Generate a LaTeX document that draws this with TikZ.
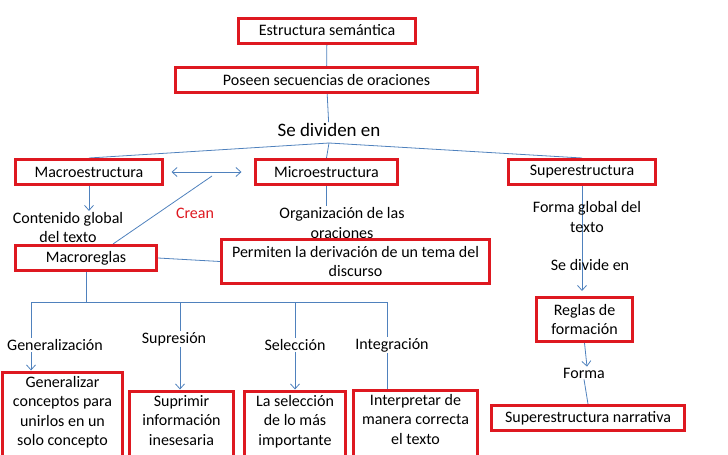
\documentclass[tikz,border=0pt]{standalone}
\usepackage{fontspec}
\setmainfont{Carlito}
\usepackage[dvipsnames]{xcolor}
\usetikzlibrary{positioning,arrows.meta,backgrounds}

\definecolor{boxred}{RGB}{222,24,32}
\definecolor{linkblue}{RGB}{79,129,189}
\tikzset{
  redbox/.style={draw=boxred, line width=3pt, inner sep=2pt, minimum height=25pt, align=center},
  lowbox/.style={redbox, anchor=north, inner ysep=4pt, text depth=75pt},
  txt/.style={inner sep=1pt, align=center},
  link/.style={draw=linkblue, line width=0.8pt},
  arr/.style={link, ->, >={Straight Barb[length=5pt, width=9pt]}},
}

\begin{document}
\begin{tikzpicture}[x=1pt, y=-1pt, font=\fontsize{16}{19.5}\selectfont]
    \clip (0,0) rectangle (728,455);

    %% top of the map
    \node[redbox, minimum width=177pt] (estructura) at (327,30.5) {Estructura semántica};
    \node[redbox, minimum width=302pt] (poseen) at (326.5,80) {Poseen secuencias de oraciones};
    \node[txt, font=\fontsize{19}{22}\selectfont] (dividen) at (329,130) {Se dividen en};
    \coordinate (split) at (329,143);

    %% three branches
    \node[redbox, minimum width=147pt] (macro) at (89,172) {Macroestructura};
    \node[redbox, minimum width=142pt] (micro) at (326.5,172) {Microestructura};
    \node[redbox, minimum width=147pt] (super) at (582,172) {Superestructura};

    \node[txt] (contenido) at (68,227.5) {Contenido global\\del texto};
    \node[txt, text=boxred] (crean) at (195,213) {Crean};
    \coordinate (creanpt) at (212,176);
    \node[txt] (organizacion) at (342,223) {Organización de las\\oraciones};
    \node[redbox, minimum width=141pt] (macroreglas) at (86,258) {Macroreglas};
    \node[redbox, minimum width=268pt, minimum height=44pt] (permiten) at (355.5,261.5)
        {Permiten la derivación de un tema del\\discurso};

    %% superestructura column
    \node[txt] (formaglobal) at (587,217) {Forma global del\\texto};
    \node[txt] (sedivide) at (590,265) {Se divide en};
    \node[redbox, minimum width=96pt, minimum height=44pt] (reglas) at (584.5,319.5) {Reglas de\\formación};
    \node[txt] (forma) at (584,373) {Forma};
    \node[redbox, minimum width=193pt] (narrativa) at (588,418) {Superestructura narrativa};

    %% macroreglas row
    \coordinate (b1) at (31,302);
    \coordinate (b2) at (180,302);
    \coordinate (b3) at (295,302);
    \coordinate (b4) at (387,302);
    \node[txt] (generalizacion) at (55,345) {Generalización};
    \node[txt] (supresion) at (174,339) {Supresión};
    \node[txt] (seleccion) at (295,345) {Selección};
    \node[txt] (integracion) at (392,345) {Integración};

    \node[lowbox, minimum width=120pt] (generalizar) at (62.5,370.5)
        {Generalizar\\conceptos para\\unirlos en un\\solo concepto};
    \node[lowbox, minimum width=104pt] (suprimir) at (181.5,389.5)
        {Suprimir\\información\\inesesaria};
    \node[lowbox, minimum width=101pt] (laseleccion) at (295,389.5)
        {La selección\\de lo más\\importante};
    \node[lowbox, minimum width=124pt] (interpretar) at (415.5,388.5)
        {Interpretar de\\manera correcta\\el texto};

    \begin{scope}[on background layer]
    \draw[link] (estructura) -- (poseen);
    \draw[link] (poseen) -- (dividen);
    \draw[link] (split) -- (macro.north);
    \draw[link] (split) -- (micro.north);
    \draw[link] (split) -- (super.north);

    \draw[arr] (macro.south) -- (macro.south |- contenido.north);
    \draw[arr, <->] ([xshift=7.5pt]macro.east) -- ([xshift=-12.5pt]micro.west);
    \draw[link] (creanpt) -- ([xshift=27pt]macroreglas.north);
    \draw[link] (micro.south) -- (micro.south |- organizacion.north);
    \draw[link] (macroreglas.east) -- (permiten.west);

    \draw[arr, shorten >=5pt] (super.south) -- (super.south |- reglas.north);
    \draw[arr] (reglas.south) -- ([xshift=3pt]forma.north);
    \draw[link] (forma.south) -- (narrativa.north);

    \draw[link] (macroreglas.south) -- (macroreglas.south |- b1);
    \draw[link] (b1) -- (b4);
    \draw[link] (b1) -- (b1 |- generalizacion.north);
    \draw[link] (b2) -- (b2 |- supresion.north);
    \draw[link] (b3) -- (b3 |- seleccion.north);
    \draw[link] (b4) -- (b4 |- integracion.north);
    \draw[arr] (b1 |- generalizacion.south) -- (b1 |- generalizar.north);
    \draw[arr] (b2 |- supresion.south) -- (b2 |- suprimir.north);
    \draw[arr] (b3 |- seleccion.south) -- (b3 |- laseleccion.north);
    \draw[link] (b4 |- integracion.south) -- (b4 |- interpretar.north);
    \end{scope}
\end{tikzpicture}
\end{document}
